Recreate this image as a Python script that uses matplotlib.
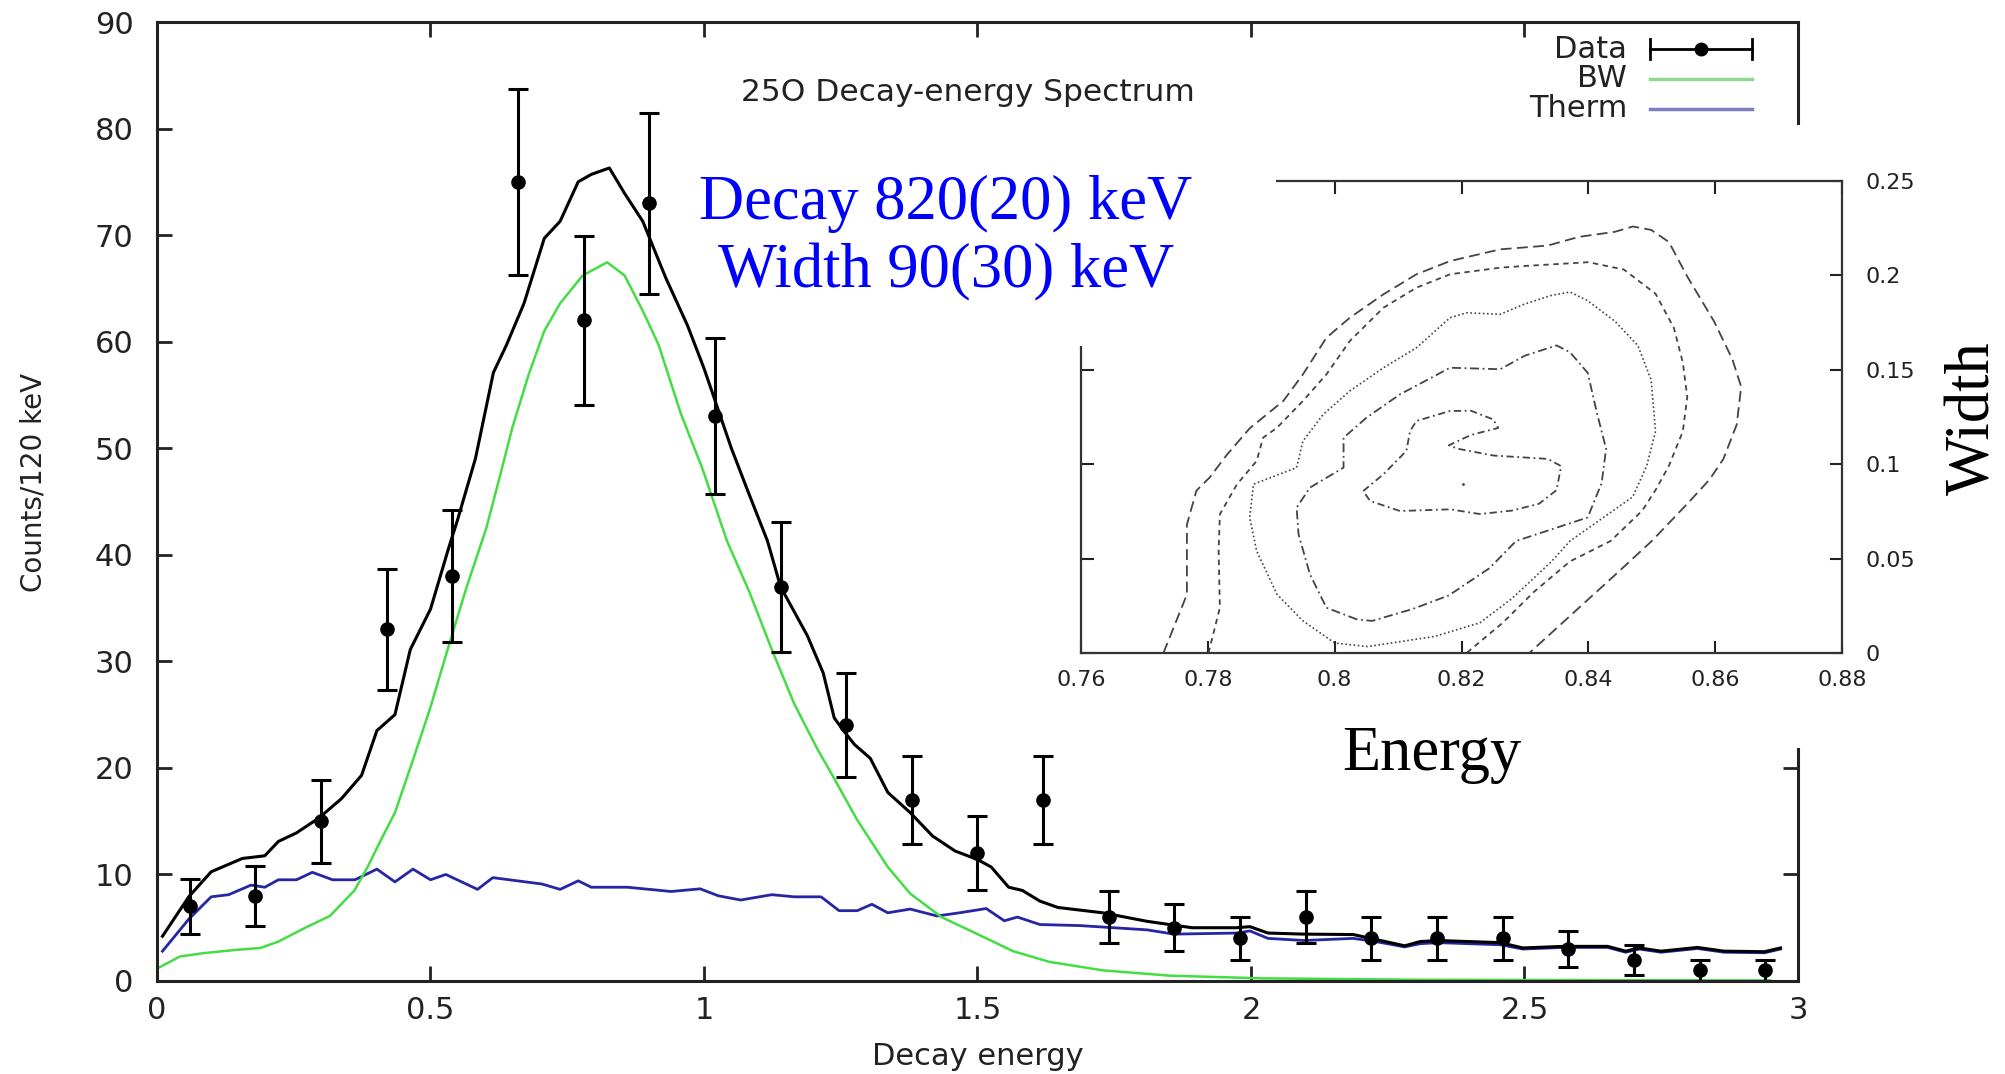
import numpy as np
import matplotlib
matplotlib.use("Agg")
from matplotlib import pyplot as plt
from matplotlib.patches import Rectangle
from matplotlib.ticker import FuncFormatter

# ---- measured spectrum (bins of 120 keV) ----
data_x = [0.06, 0.18, 0.30, 0.42, 0.54, 0.66, 0.78, 0.90, 1.02, 1.14, 1.26, 1.38, 1.50,
          1.62, 1.74, 1.86, 1.98, 2.10, 2.22, 2.34, 2.46, 2.58, 2.70, 2.82, 2.94]
data_y = [7, 8, 15, 33, 38, 75, 62, 73, 53, 37, 24, 17, 12, 17, 6, 5, 4, 6, 4, 4, 4, 3, 2, 1, 1]
data_err = [2.6, 2.8, 3.9, 5.7, 6.2, 8.7, 7.9, 8.5, 7.3, 6.1, 4.9, 4.1, 3.5, 4.1, 2.4, 2.2,
            2.0, 2.4, 2.0, 2.0, 2.0, 1.7, 1.4, 1.0, 1.0]

# ---- total fit (black) ----
tot_x = [0.01, 0.058, 0.099, 0.156, 0.197, 0.222, 0.255, 0.296, 0.337, 0.374, 0.402, 0.435,
         0.463, 0.5, 0.533, 0.549, 0.582, 0.615, 0.639, 0.671, 0.708, 0.737, 0.770, 0.794,
         0.827, 0.855, 0.888, 0.93, 0.97, 1.0, 1.05, 1.08, 1.116, 1.14, 1.189, 1.218, 1.238,
         1.255, 1.275, 1.304, 1.336, 1.377, 1.418, 1.459, 1.5, 1.525, 1.557, 1.582, 1.614,
         1.647, 1.729, 1.810, 1.892, 1.974, 1.998, 2.031, 2.097, 2.187, 2.228, 2.281, 2.309,
         2.342, 2.456, 2.497, 2.571, 2.652, 2.685, 2.71, 2.75, 2.816, 2.865, 2.939, 2.968]
tot_y = [4.2, 7.9, 10.25, 11.5, 11.75, 13.1, 13.9, 15.3, 17.1, 19.3, 23.5, 25.0, 31.1, 34.9,
         40.6, 43.2, 49.0, 57.1, 59.7, 63.6, 69.7, 71.3, 75.0, 75.7, 76.3, 73.9, 71.3, 66.0,
         61.5, 57.5, 50.0, 46.0, 41.3, 37.0, 32.4, 28.9, 24.7, 23.5, 22.2, 20.9, 17.7, 15.8,
         13.6, 12.2, 11.4, 10.7, 8.8, 8.5, 7.5, 6.9, 6.4, 5.6, 5.0, 5.0, 5.1, 4.5, 4.4, 4.36,
         3.9, 3.3, 3.7, 3.8, 3.6, 3.1, 3.25, 3.25, 2.8, 3.1, 2.8, 3.15, 2.8, 2.75, 3.1]

# ---- Breit-Wigner component (green) ----
bw_x = [0.005, 0.042, 0.083, 0.140, 0.189, 0.222, 0.271, 0.316, 0.361, 0.385, 0.410, 0.435,
        0.467, 0.5, 0.533, 0.565, 0.602, 0.625, 0.650, 0.680, 0.708, 0.737, 0.778, 0.823,
        0.855, 0.888, 0.917, 0.958, 0.997, 1.042, 1.083, 1.124, 1.165, 1.206, 1.238, 1.279,
        1.336, 1.377, 1.434, 1.5, 1.565, 1.631, 1.729, 1.852, 2.02, 2.3, 2.6, 2.95]
bw_y = [1.3, 2.3, 2.6, 2.9, 3.1, 3.7, 5.0, 6.1, 8.5, 10.7, 13.3, 15.8, 20.6, 25.7, 31.4, 36.8,
        42.5, 47.0, 52.0, 57.0, 61.0, 63.6, 66.2, 67.45, 66.2, 62.9, 59.7, 53.2, 48.1, 41.3,
        36.5, 31.1, 26.0, 21.9, 19.0, 15.2, 10.7, 8.2, 6.0, 4.4, 2.8, 1.8, 1.0, 0.5, 0.25,
        0.12, 0.08, 0.05]

# ---- thermal component (blue) ----
th_x = [0.01, 0.058, 0.099, 0.131, 0.172, 0.197, 0.222, 0.255, 0.284, 0.321, 0.362, 0.402,
        0.435, 0.468, 0.5, 0.528, 0.586, 0.614, 0.704, 0.737, 0.770, 0.794, 0.86, 0.94, 0.993,
        1.026, 1.067, 1.124, 1.165, 1.214, 1.247, 1.28, 1.307, 1.336, 1.377, 1.426, 1.467,
        1.516, 1.549, 1.573, 1.614, 1.687, 1.810, 1.859, 1.974, 1.998, 2.031, 2.097, 2.187,
        2.228, 2.281, 2.309, 2.342, 2.456, 2.497, 2.571, 2.652, 2.685, 2.71, 2.75, 2.816,
        2.865, 2.939, 2.968]
th_y = [2.8, 5.8, 7.9, 8.1, 9.0, 8.8, 9.5, 9.5, 10.2, 9.5, 9.5, 10.5, 9.3, 10.5, 9.5, 10.0,
        8.6, 9.7, 9.1, 8.6, 9.4, 8.8, 8.8, 8.4, 8.65, 8.0, 7.6, 8.1, 7.9, 7.9, 6.6, 6.6, 7.2,
        6.4, 6.75, 6.1, 6.4, 6.8, 5.65, 6.0, 5.3, 5.2, 4.8, 4.4, 4.5, 4.7, 4.0, 3.8, 4.0, 3.7,
        3.2, 3.5, 3.6, 3.4, 3.0, 3.15, 3.15, 2.7, 3.0, 2.7, 3.05, 2.7, 2.65, 3.0]

# ---- inset: likelihood contours in (energy, width) ----
c1_e = [0.773, 0.7767, 0.7767, 0.7782, 0.7803, 0.783, 0.7866, 0.7919, 0.795, 0.7987, 0.8024,
        0.8077, 0.8129, 0.8182, 0.8261, 0.8336, 0.8385, 0.8442, 0.847, 0.8499, 0.8527, 0.8556,
        0.8598, 0.8627, 0.8641, 0.8634, 0.8613, 0.8591, 0.8556, 0.850, 0.8442, 0.8371, 0.8307]
c1_w = [0.0, 0.031, 0.068, 0.086, 0.093, 0.105, 0.119, 0.1335, 0.1476, 0.167, 0.1776, 0.19,
        0.2006, 0.2076, 0.2138, 0.2158, 0.2204, 0.2231, 0.2259, 0.2241, 0.2177, 0.1994, 0.1758,
        0.1557, 0.141, 0.121, 0.1028, 0.0918, 0.079, 0.0593, 0.0413, 0.0196, 0.0]

c2_e = [0.7801, 0.7819, 0.7817, 0.7819, 0.7846, 0.7877, 0.7887, 0.7909, 0.795, 0.7987, 0.8024,
        0.8077, 0.8129, 0.8182, 0.8261, 0.83, 0.8371, 0.84, 0.8456, 0.8506, 0.8535, 0.8549,
        0.8556, 0.8549, 0.8527, 0.8506, 0.8485, 0.8435, 0.8371, 0.8314, 0.8265, 0.8208]
c2_w = [0.0, 0.024, 0.054, 0.0735, 0.0894, 0.1017, 0.114, 0.1193, 0.1335, 0.1476, 0.1653,
        0.1829, 0.1935, 0.2006, 0.2041, 0.205, 0.2064, 0.207, 0.2031, 0.1903, 0.1721, 0.1538,
        0.1356, 0.1174, 0.0991, 0.0863, 0.0754, 0.0593, 0.0485, 0.0323, 0.016, 0.0]

c3_e = [0.8052, 0.8, 0.795, 0.7909, 0.7877, 0.7866, 0.7872, 0.794, 0.795, 0.7982, 0.8024,
        0.8077, 0.8129, 0.8182, 0.8208, 0.8261, 0.83, 0.8342, 0.8371, 0.8399, 0.8442, 0.8478,
        0.8499, 0.8506, 0.8492, 0.847, 0.8371, 0.8342, 0.8279, 0.8229, 0.8158, 0.8052]
c3_w = [0.0034, 0.0053, 0.017, 0.0311, 0.054, 0.0717, 0.0894, 0.0982, 0.1123, 0.1264, 0.1388,
        0.1511, 0.1617, 0.1776, 0.1802, 0.1794, 0.1849, 0.1894, 0.1912, 0.1866, 0.1757, 0.1629,
        0.1447, 0.1174, 0.0991, 0.0827, 0.0593, 0.0485, 0.0287, 0.016, 0.0088, 0.0034]

c4_e = [0.8035, 0.7987, 0.7961, 0.7943, 0.794, 0.7961, 0.8014, 0.8014, 0.805, 0.8103, 0.8182,
        0.8261, 0.83, 0.835, 0.8371, 0.8399, 0.8414, 0.8428, 0.8421, 0.8399, 0.8286, 0.8244,
        0.818, 0.8123, 0.8059, 0.8035]
c4_w = [0.0178, 0.024, 0.0417, 0.0629, 0.077, 0.0876, 0.0982, 0.114, 0.1246, 0.137, 0.1511,
        0.1503, 0.1575, 0.1629, 0.1593, 0.1484, 0.1265, 0.1082, 0.09, 0.0718, 0.0593, 0.0449,
        0.0305, 0.0233, 0.017, 0.0178]

c5_e = [0.8045, 0.8077, 0.8113, 0.8119, 0.8129, 0.8182, 0.8215, 0.825, 0.8258, 0.8215, 0.818,
        0.8194, 0.825, 0.8336, 0.8357, 0.835, 0.8322, 0.8279, 0.8229, 0.8182, 0.8103, 0.8056,
        0.8045]
c5_w = [0.0858, 0.0947, 0.107, 0.1176, 0.1229, 0.1282, 0.1283, 0.1237, 0.1192, 0.1155, 0.11,
        0.1082, 0.1046, 0.1028, 0.099, 0.0863, 0.079, 0.0754, 0.0736, 0.0761, 0.0752, 0.0805,
        0.0858]
dot_e, dot_w = [0.8202], [0.0894]

W, H = 2006, 1074
fig = plt.figure(figsize=(W / 100, H / 100), dpi=100)
fig.patch.set_facecolor('white')

def fx(px):
    return px / W

def fy(py):
    return 1 - py / H

# main axes
ax = fig.add_axes([fx(157), fy(981), fx(1798) - fx(157), fy(22) - fy(981)])
ax.set_zorder(1)
ax.plot(th_x, th_y, color='#2626a4', lw=2.0)
ax.plot(bw_x, bw_y, color='#44dd44', lw=1.8)
ax.plot(tot_x, tot_y, color='black', lw=2.2)
ax.errorbar(data_x, data_y, yerr=data_err, fmt='o', color='black', ms=9.5, lw=2.2,
            capsize=7, capthick=2.2)
ax.set_xlim(0, 3)
ax.set_ylim(0, 90)
ax.set_xticks(np.arange(0, 3.01, 0.5))
ax.set_yticks(np.arange(0, 91, 10))
g = FuncFormatter(lambda v, p: f'{v:g}')
ax.xaxis.set_major_formatter(g)
ax.yaxis.set_major_formatter(g)
ax.tick_params(direction='in', length=11, width=2, top=True, right=True,
               labelsize=22, colors='#222222')
ax.tick_params(axis='x', pad=11)
ax.tick_params(axis='y', pad=17)
for s in ax.spines.values():
    s.set_linewidth(2.2)
    s.set_color('#222222')
ax.set_xlabel('Decay energy', fontsize=22, color='#222222', labelpad=12)
ax.set_ylabel('Counts/120 keV', fontsize=20, color='#222222', va='center')
ax.yaxis.set_label_coords(-0.075, 0.52)

ax.text(0.494, 0.926, '25O Decay-energy Spectrum', transform=ax.transAxes,
        ha='center', va='center', fontsize=22.5, color='#222222')

# key (gnuplot style: label, then sample)
ky = [0.9718, 0.9406, 0.9093]
kx0, kx1 = 0.9098, 0.972
for lab, yy in zip(['Data', 'BW', 'Therm'], ky):
    ax.text(0.8958, yy, lab, transform=ax.transAxes, ha='right', va='center',
            fontsize=22, color='#222222')
ax.plot([kx0, kx1], [ky[0]] * 2, color='black', lw=2, transform=ax.transAxes, clip_on=False)
ax.plot([kx0, kx0], [ky[0] - 0.01, ky[0] + 0.01], color='black', lw=2, transform=ax.transAxes)
ax.plot([kx1, kx1], [ky[0] - 0.01, ky[0] + 0.01], color='black', lw=2, transform=ax.transAxes)
ax.plot([(kx0 + kx1) / 2], [ky[0]], 'o', color='black', ms=9, transform=ax.transAxes)
ax.plot([kx0, kx1], [ky[1]] * 2, color='#8fd88f', lw=2.5, transform=ax.transAxes)
ax.plot([kx0, kx1], [ky[2]] * 2, color='#7c7cc0', lw=2.5, transform=ax.transAxes)

# white background of the pasted inset picture
cover = Rectangle((fx(1060), fy(748)), 1 - fx(1060), fy(125) - fy(748),
                  transform=fig.transFigure, facecolor='white', edgecolor='none', zorder=2)
fig.patches.append(cover)
fig.add_artist(plt.Line2D([fx(1425), fx(1800)], [fy(126), fy(126)], color='#d8d8d8', lw=1,
                          zorder=2))

# inset axes
ins = fig.add_axes([fx(1081), fy(653), fx(1842) - fx(1081), fy(181) - fy(653)])
ins.set_zorder(3)
ins.set_facecolor('none')
ins.plot(c1_e, c1_w, color='#444444', lw=1.3, dashes=(6, 3))
ins.plot(c2_e, c2_w, color='#444444', lw=1.3, dashes=(3, 2.5))
ins.plot(c3_e, c3_w, color='#444444', lw=1.2, dashes=(1, 1.5))
ins.plot(c4_e, c4_w, color='#444444', lw=1.3, dashes=(5, 2, 1, 2))
ins.plot(c5_e, c5_w, color='#444444', lw=1.3, dashes=(4, 2, 1, 2))
ins.plot(dot_e, dot_w, '.', color='#444444', ms=2)
ins.set_xlim(0.76, 0.88)
ins.set_ylim(0, 0.25)
ins.set_xticks([0.76, 0.78, 0.80, 0.82, 0.84, 0.86, 0.88])
ins.set_yticks([0, 0.05, 0.10, 0.15, 0.20, 0.25])
ins.xaxis.set_major_formatter(g)
ins.yaxis.set_major_formatter(g)
ins.yaxis.tick_right()
ins.tick_params(direction='in', length=9, width=1.5, top=True, left=True, right=True,
                labelsize=16, colors='#222222')
ins.tick_params(axis='x', pad=12)
ins.tick_params(axis='y', pad=17, labelleft=False, labelright=True)
for s in ins.spines.values():
    s.set_linewidth(1.6)
    s.set_color('#333333')
# the fit-result box hides the top-left corner of the inset frame
ins.add_patch(Rectangle((-0.05, 0.65), 0.306, 0.4, transform=ins.transAxes,
                        facecolor='white', edgecolor='none', zorder=10, clip_on=False))

fig.text(fx(946), fy(238), 'Decay 820(20) keV\nWidth 90(30) keV', ha='center', va='center',
         fontsize=45, color='#0000ff', family='Liberation Serif', linespacing=1.24, zorder=5)
fig.text(fx(1432), fy(755), 'Energy', ha='center', va='center', fontsize=45,
         family='Liberation Serif', color='black', zorder=5)
fig.text(fx(2003), fy(418), 'Width', ha='right', va='center', rotation=90, fontsize=45,
         family='Liberation Serif', color='black', zorder=5)

plt.savefig('out.png', dpi=100)
